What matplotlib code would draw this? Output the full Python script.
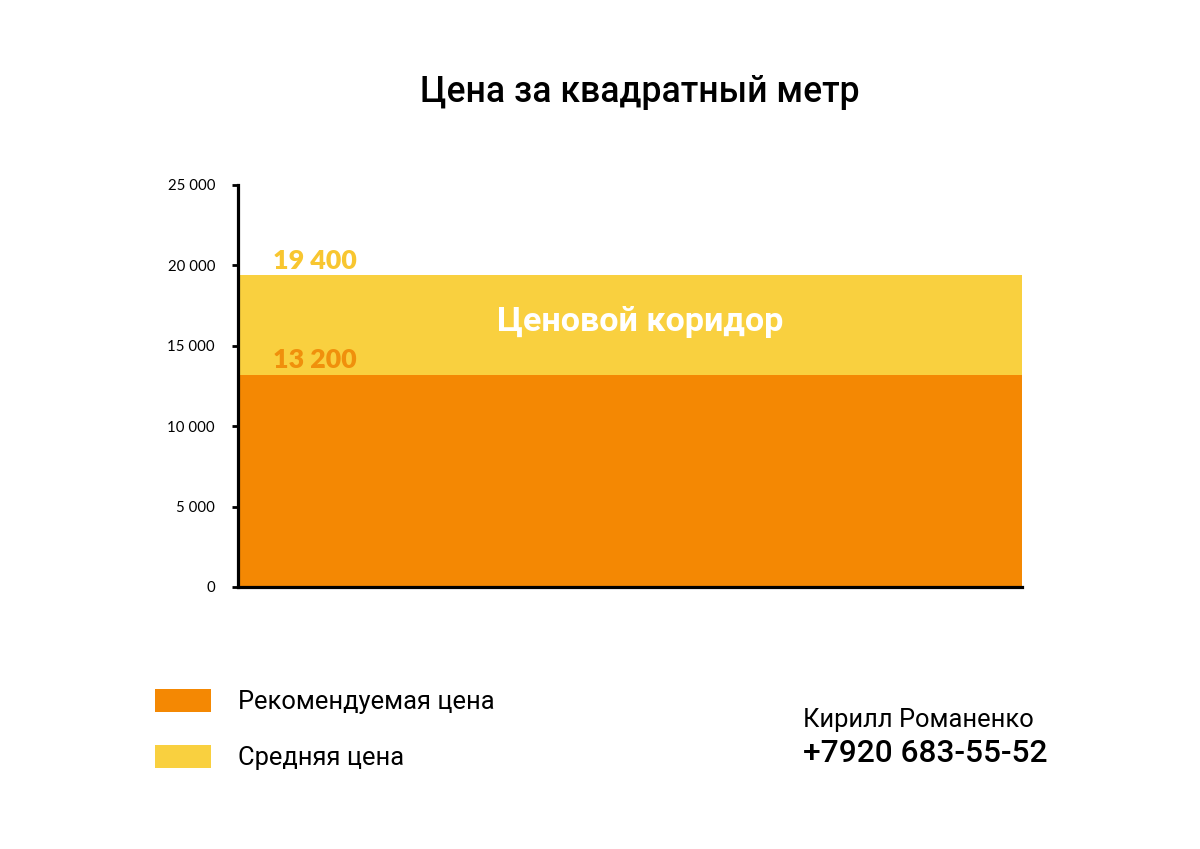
import matplotlib
matplotlib.use("Agg")
import matplotlib.pyplot as plt
from matplotlib.patches import Rectangle

# Price per square metre, rubles
recommended_price = 13200
average_price = 19400
corridor_label = "Ценовой коридор"
y_ticks = [0, 5000, 10000, 15000, 20000, 25000]
y_tick_labels = ["0", "5 000", "10 000", "15 000", "20 000", "25 000"]
legend_labels = ["Рекомендуемая цена", "Средняя цена"]

ORANGE = "#F48803"
YELLOW = "#F9D03F"
ORANGE_TXT = "#F0900C"
YELLOW_TXT = "#F8C630"

W, H = 1200, 849
fig = plt.figure(figsize=(W / 100, H / 100), dpi=100)
fig.patch.set_facecolor("white")

ax = fig.add_axes([238 / W, 1 - 587 / H, (1022 - 238) / W, (587 - 185) / H])
ax.set_xlim(-0.5, 0.5)
ax.set_ylim(0, 25000)

# yellow band up to the average price, orange block up to the recommended price
ax.bar(0, average_price - recommended_price, bottom=recommended_price, width=1.0,
       color=YELLOW, linewidth=0, zorder=1)
ax.bar(0, recommended_price, width=1.0, color=ORANGE, linewidth=0, zorder=2)

for s in ("top", "right"):
    ax.spines[s].set_visible(False)
for s in ("left", "bottom"):
    ax.spines[s].set_linewidth(2.3)
    ax.spines[s].set_color("black")
    ax.spines[s].set_zorder(5)

ax.set_xticks([])
ax.set_yticks(y_ticks)
ax.set_yticklabels(y_tick_labels, fontfamily="Lato", fontsize=10.8)
ax.tick_params(axis="y", direction="out", length=4, width=2, pad=12.5, colors="black")

val_font = dict(fontfamily="Lato", fontweight="heavy", fontsize=19.3)
ax.annotate(f"{average_price:,}".replace(",", " "), xy=(0.045, average_price),
            xycoords=("axes fraction", "data"), xytext=(0, 4.5), textcoords="offset points",
            ha="left", va="baseline", color=YELLOW_TXT, **val_font)
ax.annotate(f"{recommended_price:,}".replace(",", " "), xy=(0.045, recommended_price),
            xycoords=("axes fraction", "data"), xytext=(0, 4.5), textcoords="offset points",
            ha="left", va="baseline", color=ORANGE_TXT, **val_font)

ax.text(0.513, (average_price + recommended_price) / 2 + 200, corridor_label,
        transform=ax.get_yaxis_transform(),
        ha="center", va="center", color="white",
        fontfamily="Roboto", fontweight="bold", fontsize=24.6, zorder=6)

fig.text(640 / W, 1 - 93 / H, "Цена за квадратный метр", ha="center", va="center",
         fontfamily="Roboto", fontweight="medium", fontsize=25.6, color="black")

# legend
for i, (lab, col) in enumerate(zip(legend_labels, [ORANGE, YELLOW])):
    y0 = 689 + i * 56
    fig.patches.append(Rectangle((155 / W, 1 - (y0 + 23) / H), 56 / W, 23 / H,
                                 transform=fig.transFigure, color=col, linewidth=0))
    fig.text(238 / W, 1 - (y0 + 13) / H, lab, ha="left", va="center",
             fontfamily="Roboto", fontsize=18.4, color="black")

fig.text(803 / W, 1 - 720 / H, "Кирилл Романенко", ha="left", va="center",
         fontfamily="Roboto", fontsize=18.4, color="black")
fig.text(803 / W, 1 - 754 / H, "+7920 683-55-52", ha="left", va="center",
         fontfamily="Roboto", fontweight="medium", fontsize=22.8, color="black")

fig.savefig("out.png", dpi=100, facecolor="white")
